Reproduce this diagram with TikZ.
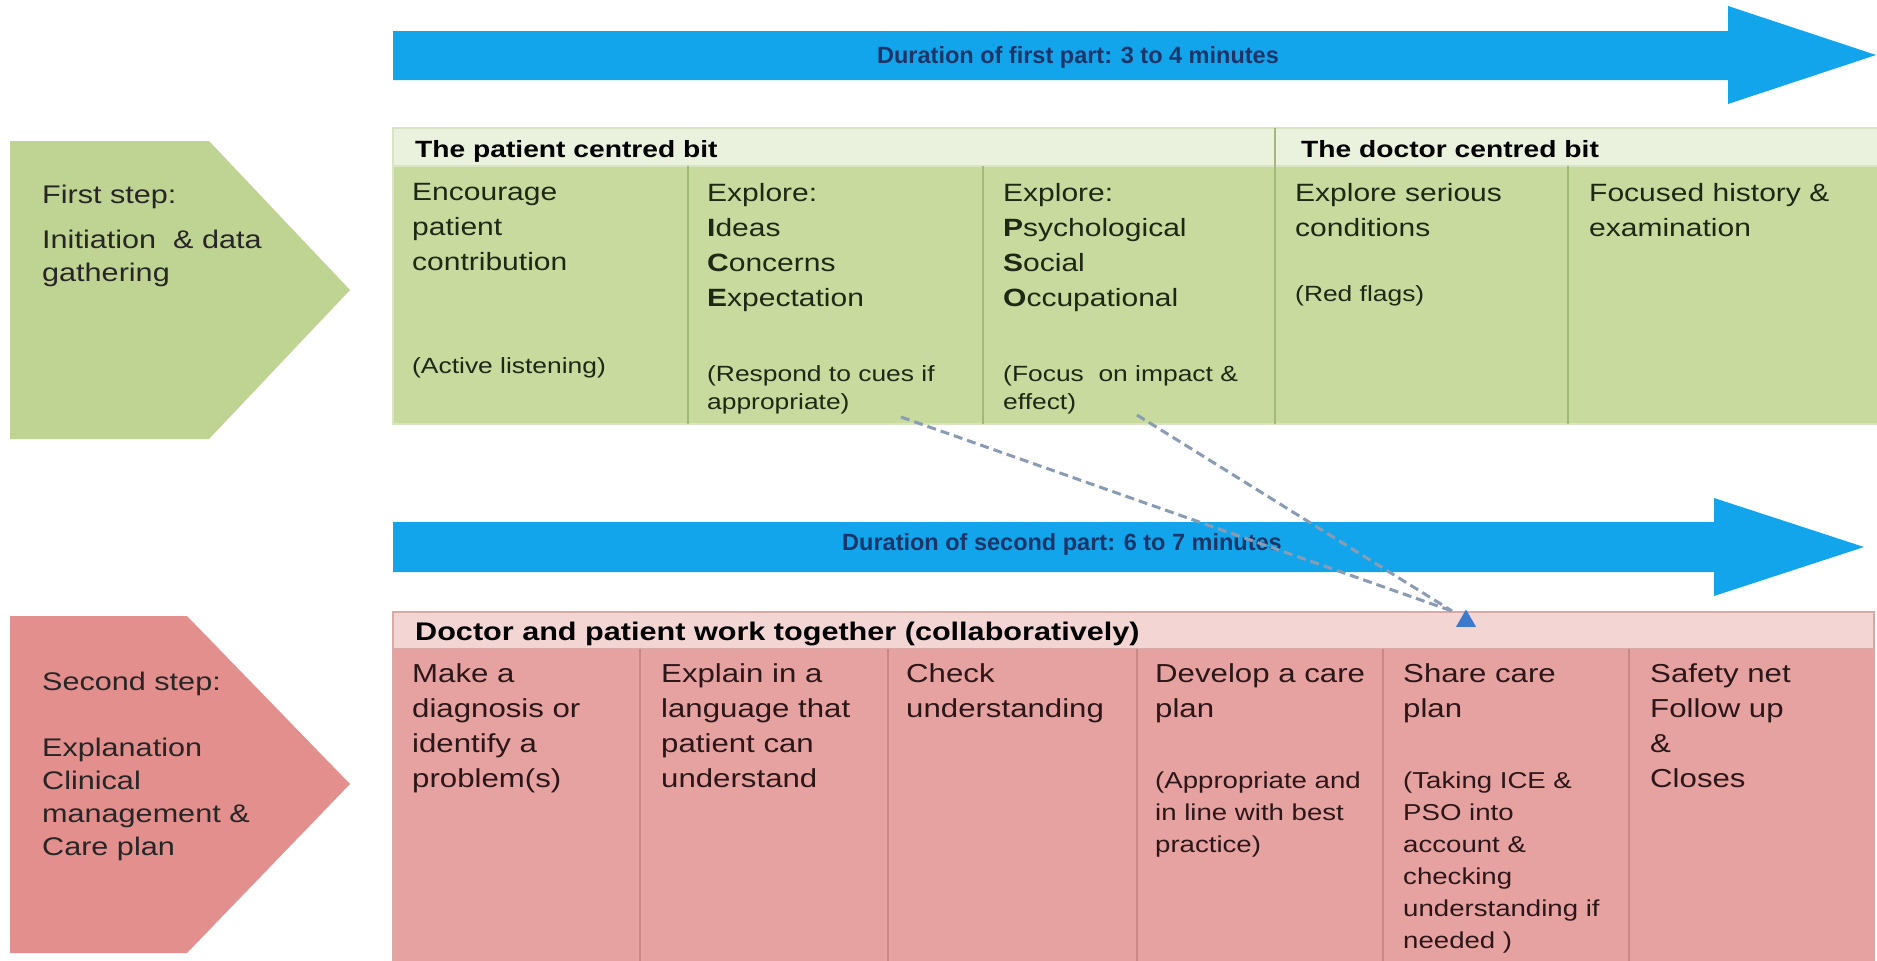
\documentclass[tikz,border=0pt]{standalone}
\usepackage{fontspec}
\setmainfont{Liberation Sans}[FakeStretch=1.2]
\newfontfamily\labelfont{Liberation Sans}
\usetikzlibrary{shapes.geometric}

\newcommand\fsz[2]{\fontsize{#1}{#2}\selectfont}

\definecolor{stepgreen}{HTML}{BFD393}
\definecolor{cellgreen}{HTML}{C8DA9E}
\definecolor{headgreen}{HTML}{EAF1DD}
\definecolor{linegreen}{HTML}{A3B97A}
\definecolor{edgegreen}{HTML}{D9E5C2}
\definecolor{steppink}{HTML}{E38F8D}
\definecolor{cellpink}{HTML}{E6A2A1}
\definecolor{headpink}{HTML}{F3D5D4}
\definecolor{linepink}{HTML}{C98786}
\definecolor{edgepink}{HTML}{D9A9A8}
\definecolor{arrowblue}{HTML}{12A5EB}
\definecolor{labelnavy}{HTML}{1B3568}
\definecolor{dashgrey}{HTML}{8A9BB4}
\definecolor{tipblue}{HTML}{3C7BCB}
\definecolor{inkgreen}{HTML}{1F2814}
\definecolor{inkpink}{HTML}{2B1717}

\tikzset{
  steptxt/.style={anchor=north west, align=left, inner sep=0pt, text=black!85, font=\fsz{25.5}{33}},
  greentxt/.style={anchor=north west, align=left, inner sep=0pt, text=inkgreen, font=\fsz{25}{35}},
  greennote/.style={greentxt, font=\fsz{22}{28}},
  greenhead/.style={anchor=north west, inner sep=0pt, text=black, font=\bfseries\fsz{23.5}{28}},
  pinktxt/.style={anchor=north west, align=left, inner sep=0pt, text=inkpink, font=\fsz{26}{35}},
  pinknote/.style={pinktxt, font=\fsz{23}{32}},
  pinkhead/.style={anchor=north west, inner sep=0pt, text=black, font=\bfseries\fsz{25.5}{30}},
  durlabel/.style={inner sep=0pt, text=labelnavy, font=\labelfont\bfseries\fsz{23.5}{28}},
  dashlink/.style={draw=dashgrey, line width=3pt, dash pattern=on 9pt off 5pt},
  tipmark/.style={regular polygon, regular polygon sides=3, fill=tipblue, minimum size=23pt, inner sep=0pt},
  gridgreen/.style={draw=linegreen, line width=1.2pt},
  gridpink/.style={draw=linepink, line width=1.2pt},
}

\begin{document}
\begin{tikzpicture}[x=1pt,y=-1pt]
\fill[white] (0,0) rectangle (1877,961);
\useasboundingbox (0,0) rectangle (1877,961);

% ---------- timing arrows ----------
\fill[arrowblue] (393,31) -- (1728,31) -- (1728,6) -- (1876,55) -- (1728,104) -- (1728,80) -- (393,80) -- cycle;
\node[durlabel] (dur1) at (1078,57) {Duration of first part: 3 to 4 minutes};

\fill[arrowblue] (393,522) -- (1714,522) -- (1714,498) -- (1864,547) -- (1714,596) -- (1714,572) -- (393,572) -- cycle;
\node[durlabel] (dur2) at (1062,544) {Duration of second part: 6 to 7 minutes};

% ---------- step pentagons ----------
\fill[stepgreen] (10,141) -- (209,141) -- (350,290) -- (209,439) -- (10,439) -- cycle;
\node[steptxt] (step1) at (42,185) {First step:\\[12pt]Initiation \ \& data\\gathering};

\fill[steppink] (10,616) -- (187,616) -- (350,784) -- (187,953) -- (10,953) -- cycle;
\node[steptxt] (step2) at (42,672) {Second step:\\[33pt]Explanation\\Clinical\\management \&\\Care plan};

% ---------- first table (green) ----------
\fill[headgreen] (393,128) rectangle (1877,166);
\fill[cellgreen] (393,166) rectangle (1877,424);
\draw[edgegreen, line width=1.5pt] (1877,128) -- (393,128) -- (393,424) -- (1877,424);
\draw[edgegreen, line width=1.5pt] (393,166) -- (1877,166);
\draw[gridgreen] (688,166) -- (688,424);
\draw[gridgreen] (983,166) -- (983,424);
\draw[gridgreen] (1275,128) -- (1275,424);
\draw[gridgreen] (1568,166) -- (1568,424);

\node[greenhead] (pchead) at (415,140) {The patient centred bit};
\node[greenhead] (dchead) at (1301,140) {The doctor centred bit};

\node[greentxt] (encourage) at (412,183) {Encourage\\patient\\contribution};
\node[greennote] (listen) at (412,357) {(Active listening)};

\node[greentxt] (ice) at (707,183) {Explore:\\\textbf{I}deas\\\textbf{C}oncerns\\\textbf{E}xpectation};
\node[greennote] (cues) at (707,365) {(Respond to cues if\\appropriate)};

\node[greentxt] (pso) at (1003,183) {Explore:\\\textbf{P}sychological\\\textbf{S}ocial\\\textbf{O}ccupational};
\node[greennote] (impact) at (1003,365) {(Focus \ on impact \&\\effect)};

\node[greentxt] (serious) at (1295,183) {Explore serious\\conditions};
\node[greennote] (flags) at (1295,285) {(Red flags)};

\node[greentxt] (history) at (1589,183) {Focused history \&\\examination};

% ---------- second table (pink) ----------
\fill[headpink] (393,612) rectangle (1874,649);
\fill[cellpink] (393,649) rectangle (1874,961);
\draw[edgepink, line width=1.5pt] (393,961) -- (393,612) -- (1874,612) -- (1874,961);
\draw[edgepink, line width=1.5pt] (393,649) -- (1874,649);
\draw[gridpink] (640,649) -- (640,961);
\draw[gridpink] (888,649) -- (888,961);
\draw[gridpink] (1137,649) -- (1137,961);
\draw[gridpink] (1383,649) -- (1383,961);
\draw[gridpink] (1629,649) -- (1629,961);

\node[pinkhead] (dphead) at (415,622) {Doctor and patient work together (collaboratively)};

\node[pinktxt] (diag) at (412,663) {Make a\\diagnosis or\\identify a\\problem(s)};
\node[pinktxt] (explain) at (661,663) {Explain in a\\language that\\patient can\\understand};
\node[pinktxt] (check) at (906,663) {Check\\understanding};
\node[pinktxt] (develop) at (1155,663) {Develop a care\\plan};
\node[pinknote] (practice) at (1155,772) {(Appropriate and\\in line with best\\practice)};
\node[pinktxt] (share) at (1403,663) {Share care\\plan};
\node[pinknote] (account) at (1403,772) {(Taking ICE \&\\PSO into\\account \&\\checking\\understanding if\\needed )};
\node[pinktxt] (safety) at (1650,663) {Safety net\\Follow up\\\&\\Closes};

% ---------- links from ICE and PSO to sharing the plan ----------
\coordinate (iceend) at (901,417);
\coordinate (psoend) at (1137,415);
\coordinate (meet) at (1452,611);
\node[tipmark] (sharetip) at (1466,621) {};
\draw[dashlink] (iceend) -- (meet);
\draw[dashlink] (psoend) -- (meet);
\end{tikzpicture}
\end{document}
